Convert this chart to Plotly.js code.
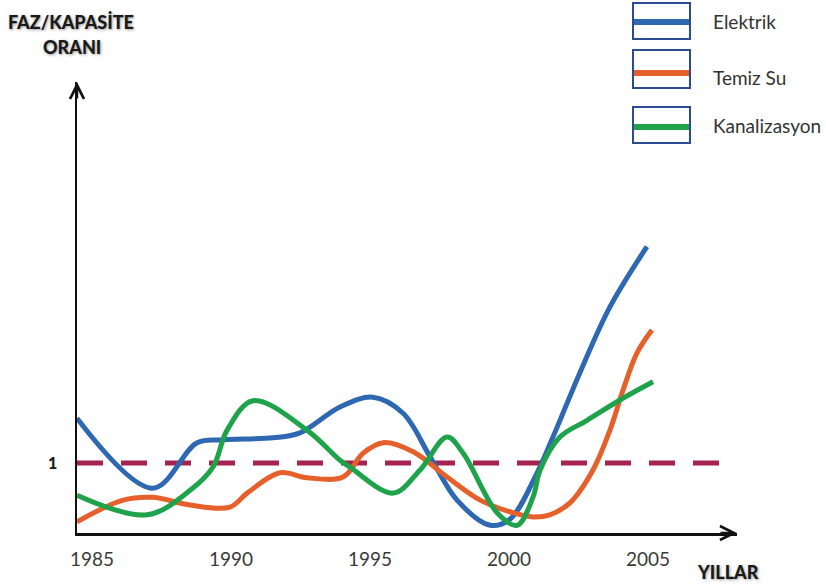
<!DOCTYPE html>
<html>
<head>
<meta charset="utf-8">
<script src="https://cdn.plot.ly/plotly-3.0.1.min.js"></script>
<style>html,body{margin:0;padding:0;background:#fff;}#chart{width:826px;height:585px;}</style>
</head>
<body>
<div id="chart"></div>
<script>
// ---- Data ----
var seriesNames = ["Elektrik", "Temiz Su", "Kanalizasyon"];
var seriesColors = ["#2E68B2", "#E5602A", "#1FA34A"];

var elektrikX = [1984.46, 1987.19, 1988.78, 1989.71, 1991.51, 1992.48, 1993.92, 1995.11, 1996.19, 1997.16, 1998.13, 1999.32, 2000.04, 2001.01, 2001.58, 2002.55, 2003.63, 2004.96];
var elektrikY = [1.64, 0.64, 1.29, 1.33, 1.36, 1.43, 1.80, 1.94, 1.71, 1.09, 0.47, 0.11, 0.20, 0.86, 1.37, 2.29, 3.23, 4.09];

var temizSuX = [1984.46, 1986.12, 1987.19, 1988.53, 1989.96, 1990.58, 1991.76, 1992.73, 1994.03, 1994.75, 1995.47, 1996.55, 1997.77, 1998.96, 2000.14, 2000.86, 2001.47, 2002.19, 2003.02, 2003.63, 2004.10, 2004.60, 2005.14];
var temizSuY = [0.16, 0.47, 0.51, 0.40, 0.37, 0.57, 0.86, 0.79, 0.80, 1.14, 1.29, 1.16, 0.80, 0.47, 0.29, 0.23, 0.26, 0.43, 0.90, 1.47, 2.04, 2.57, 2.90];

var kanalX = [1984.46, 1986.98, 1988.53, 1989.35, 1989.86, 1990.79, 1992.73, 1993.92, 1994.28, 1995.83, 1996.80, 1997.77, 1998.35, 1999.57, 2000.29, 2000.86, 2001.12, 2001.83, 2002.81, 2003.99, 2005.18];
var kanalY = [0.54, 0.26, 0.61, 0.94, 1.47, 1.89, 1.47, 1.04, 0.94, 0.57, 0.90, 1.37, 1.14, 0.29, 0.11, 0.51, 0.90, 1.37, 1.61, 1.90, 2.16];

var thresholdX = [1984.46, 2007.95];
var thresholdY = [1, 1];

var xTickVals = [1985, 1990, 1995, 2000, 2005];
var xTickText = ["1985", "1990", "1995", "2000", "2005"];
var yTickVals = [1];
var yTickText = ["1"];

// ---- Layout geometry ----
var W = 826, H = 585;
var M = {l: 77, r: 89, t: 82, b: 52};
var plotW = W - M.l - M.r, plotH = H - M.t - M.b;
function px(xp) { return (xp - M.l) / plotW; }
function py(yp) { return (H - M.b - yp) / plotH; }

var xs = [elektrikX, temizSuX, kanalX];
var ys = [elektrikY, temizSuY, kanalY];

var traces = [];
traces.push({
  x: thresholdX, y: thresholdY, type: "scatter", mode: "lines",
  line: {color: "#A5234E", width: 5, dash: "26px,18px"},
  showlegend: false, hoverinfo: "skip"
});
for (var i = 0; i < 3; i++) {
  traces.push({
    x: xs[i], y: ys[i], name: seriesNames[i], type: "scatter", mode: "lines",
    line: {color: seriesColors[i], width: 5, shape: "spline", smoothing: 1.0},
    showlegend: false
  });
}

var titleFont = {family: "Lato, 'Open Sans', sans-serif", size: 18, color: "#1a1a1a", weight: 900, shadow: "1px 1px 3px #9a9a9a"};

var annotations = [
  {xref: "paper", yref: "paper", x: px(71), y: py(22), text: "FAZ/KAPASİTE", showarrow: false, font: titleFont, xanchor: "center", yanchor: "middle"},
  {xref: "paper", yref: "paper", x: px(72), y: py(47), text: "ORANI", showarrow: false, font: titleFont, xanchor: "center", yanchor: "middle"},
  {xref: "paper", yref: "paper", x: px(728), y: py(572), text: "YILLAR", showarrow: false, font: titleFont, xanchor: "center", yanchor: "middle"},
  // axis arrowheads
  {xref: "paper", yref: "paper", x: 1, y: 0, ax: -18, ay: 0, text: "", showarrow: true, arrowhead: 5, arrowsize: 1.1, arrowwidth: 2.5, arrowcolor: "#111"},
  {xref: "paper", yref: "paper", x: 0, y: 1, ax: 0, ay: 18, text: "", showarrow: true, arrowhead: 5, arrowsize: 1.1, arrowwidth: 2.5, arrowcolor: "#111"}
];

// custom boxed legend
var shapes = [];
var boxTop = [3, 50, 107], boxBot = [39, 88, 143], lineY = [22, 73, 127];
var textY = [22, 77, 126];
for (var k = 0; k < 3; k++) {
  shapes.push({type: "rect", xref: "paper", yref: "paper", x0: px(633), x1: px(690), y0: py(boxBot[k]), y1: py(boxTop[k]),
    line: {color: "#2C4A8E", width: 2}, fillcolor: "rgba(255,255,255,0)"});
  shapes.push({type: "line", xref: "paper", yref: "paper", x0: px(634), x1: px(689), y0: py(lineY[k]), y1: py(lineY[k]),
    line: {color: seriesColors[k], width: 6}});
  annotations.push({xref: "paper", yref: "paper", x: px(711), y: py(textY[k]), text: seriesNames[k], showarrow: false,
    xanchor: "left", yanchor: "middle", font: {family: "Lato, 'Open Sans', sans-serif", size: 19, color: "#333"}});
}

var layout = {
  width: W, height: H,
  margin: M,
  paper_bgcolor: "#fff", plot_bgcolor: "#fff",
  showlegend: false,
  xaxis: {
    range: [1984.46, 2008.2], showgrid: false, zeroline: false,
    showline: true, linecolor: "#111", linewidth: 2.5,
    tickvals: xTickVals, ticktext: xTickText, ticks: "",
    ticklabelstandoff: 8,
    tickfont: {family: "Lato, 'Open Sans', sans-serif", size: 19, color: "#3a3a3a"}
  },
  yaxis: {
    range: [0, plotH / 70], showgrid: false, zeroline: false,
    showline: true, linecolor: "#111", linewidth: 2.5,
    tickvals: yTickVals, ticktext: yTickText, ticks: "",
    ticklabelstandoff: 14,
    tickfont: {family: "Lato, 'Open Sans', sans-serif", size: 16, color: "#1a1a1a", weight: 900}
  },
  annotations: annotations,
  shapes: shapes
};

Plotly.newPlot("chart", traces, layout, {staticPlot: true, displayModeBar: false});
</script>
</body>
</html>
